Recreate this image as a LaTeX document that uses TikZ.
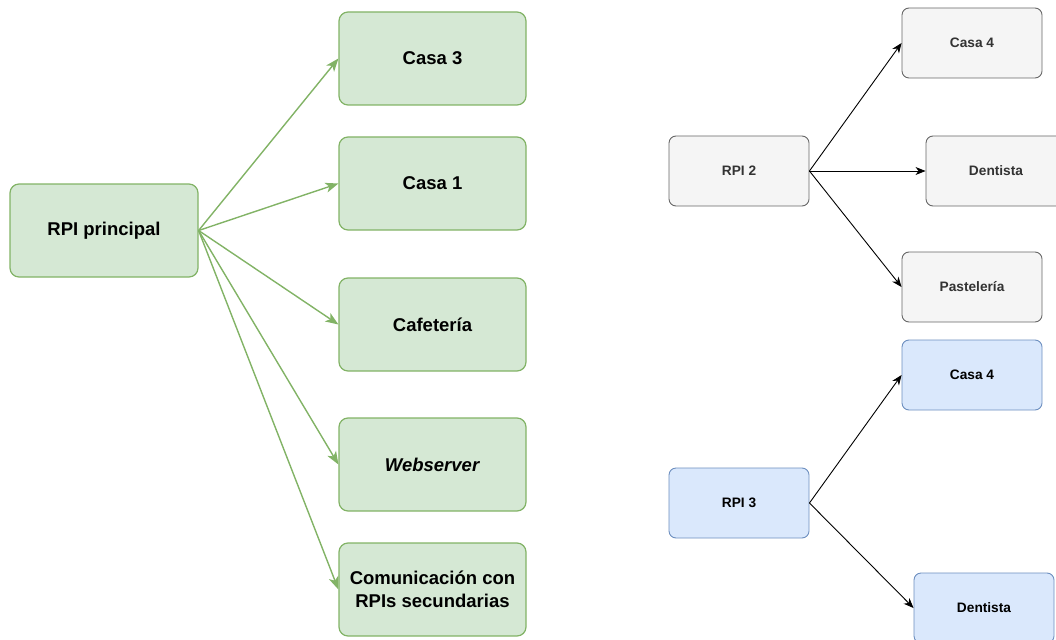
\documentclass[tikz,border=0pt]{standalone}
\usepackage{fontspec}
\setmainfont{Liberation Sans}
\usetikzlibrary{arrows.meta}

\definecolor{greenfill}{HTML}{D5E8D4}
\definecolor{greenline}{HTML}{82B366}
\definecolor{greyfill}{HTML}{F5F5F5}
\definecolor{greyline}{HTML}{666666}
\definecolor{greytext}{HTML}{333333}
\definecolor{bluefill}{HTML}{DAE8FC}
\definecolor{blueline}{HTML}{6C8EBF}

\begin{document}
\begin{tikzpicture}[x=1pt, y=-1pt,
    bigbox/.style={rectangle, rounded corners=9pt, draw=greenline, fill=greenfill, line width=1.2pt, minimum width=187pt, minimum height=93pt, align=center, font=\fontsize{18.5}{23}\selectfont\bfseries},
    greybox/.style={rectangle, rounded corners=7pt, draw=greyline, fill=greyfill, line width=0.9pt, minimum width=140pt, minimum height=70pt, text=greytext, font=\fontsize{13.7}{16}\selectfont\bfseries},
    bluebox/.style={greybox, draw=blueline, fill=bluefill, text=black},
    greenarrow/.style={draw=greenline, line width=1.4pt, -{Stealth[length=13pt, width=10pt, inset=3.5pt]}, fill=greenline},
    blackarrow/.style={draw=black, line width=0.9pt, -{Stealth[length=10pt, width=8pt, inset=3pt]}}]
    \useasboundingbox (0,0) rectangle (1056,639);
    % Place nodes
    \node [bigbox, minimum width=188pt] (main) at (104,230.5) {RPI principal};
    \node [bigbox] (casa3) at (432.5,58.5) {Casa 3};
    \node [bigbox] (casa1) at (432.5,183.5) {Casa 1};
    \node [bigbox] (cafe) at (432.5,324.5) {Cafetería};
    \node [bigbox] (web) at (432.5,464.5) {\textit{Webserver}};
    \node [bigbox] (comm) at (432.5,589.5) {Comunicación con\\RPIs secundarias};

    \node [greybox] (rpi2) at (739,171) {RPI 2};
    \node [greybox] (casa4a) at (972,43) {Casa 4};
    \node [greybox] (dentA) at (996,171) {Dentista};
    \node [greybox] (paste) at (972,287) {Pastelería};

    \node [bluebox] (rpi3) at (739,503) {RPI 3};
    \node [bluebox] (casa4b) at (972,375) {Casa 4};
    \node [bluebox] (dentB) at (984,608) {Dentista};

    % Connectors
    \path [greenarrow] (main.east) -- (casa3.west);
    \path [greenarrow] (main.east) -- (casa1.west);
    \path [greenarrow] (main.east) -- (cafe.west);
    \path [greenarrow] (main.east) -- (web.west);
    \path [greenarrow] (main.east) -- (comm.west);
    \path [blackarrow] (rpi2.east) -- (casa4a.west);
    \path [blackarrow] (rpi2.east) -- (dentA.west);
    \path [blackarrow] (rpi2.east) -- (paste.west);
    \path [blackarrow] (rpi3.east) -- (casa4b.west);
    \path [blackarrow] (rpi3.east) -- (dentB.west);
\end{tikzpicture}
\end{document}
